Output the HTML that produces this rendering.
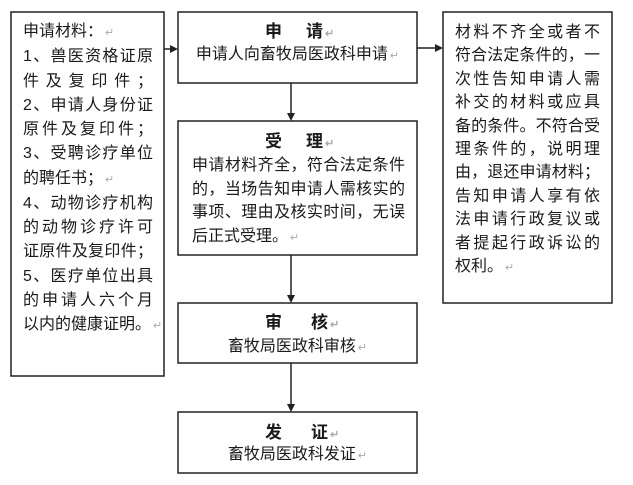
<!DOCTYPE html>
<html><head><meta charset="utf-8"><style>
html,body{margin:0;padding:0;background:#fff;}
body{width:633px;height:485px;position:relative;overflow:hidden;font-family:"Liberation Sans","Noto Sans CJK SC",sans-serif;color:#1a1a1a;}
svg{position:absolute;left:0;top:0;}
.t{position:absolute;font-size:16px;white-space:nowrap;}
.j{display:block;text-align:justify;text-align-last:justify;}
.l{display:block;text-align:left;}
.r{color:#aaa;font-size:11px;margin-left:2px;}
.b{position:absolute;font-size:17px;font-weight:bold;line-height:20px;}
.c{position:absolute;font-size:16px;text-align:center;line-height:20px;white-space:nowrap;}
</style></head><body>
<svg width="633" height="485" viewBox="0 0 633 485">
<g fill="none" stroke="#222" stroke-width="1.5">
<rect x="11" y="12" width="153" height="364"/>
<rect x="178" y="12" width="239" height="71"/>
<rect x="178" y="121" width="239" height="134"/>
<rect x="178" y="303" width="239" height="60"/>
<rect x="178" y="412" width="239" height="61"/>
<rect x="443" y="12" width="169" height="291"/>
<line x1="164" y1="49" x2="171" y2="49"/>
<line x1="417" y1="48" x2="436" y2="48"/>
<line x1="291" y1="83" x2="291" y2="114"/>
<line x1="291" y1="255" x2="291" y2="296"/>
<line x1="291" y1="363" x2="291" y2="405"/>
</g>
<g fill="#222">
<polygon points="170,45 178,49 170,53"/>
<polygon points="435,44 443,48 435,52"/>
<polygon points="287,113 291,121 295,113"/>
<polygon points="287,295 291,303 295,295"/>
<polygon points="287,404 291,412 295,404"/>
</g>
</svg>

<div class="t" style="left:23px;top:20px;width:130px;line-height:24.25px;">
<span class="l">申请材料：<span class="r">↵</span></span>
<span class="j">1、兽医资格证原</span>
<span class="j">件及复印件；</span>
<span class="j">2、申请人身份证</span>
<span class="j">原件及复印件；</span>
<span class="j">3、受聘诊疗单位</span>
<span class="l">的聘任书；<span class="r">↵</span></span>
<span class="j">4、动物诊疗机构</span>
<span class="j">的动物诊疗许可</span>
<span class="j">证原件及复印件；</span>
<span class="j">5、医疗单位出具</span>
<span class="j">的申请人六个月</span>
<span class="l">以内的健康证明。<span class="r">↵</span></span>
</div>

<div class="b" style="left:265px;top:22px;">申</div>
<div class="b" style="left:306px;top:22px;">请<span class="r">↵</span></div>
<div class="c" style="left:178px;top:45px;width:239px;">申请人向畜牧局医政科申请<span class="r">↵</span></div>

<div class="b" style="left:265px;top:132px;">受</div>
<div class="b" style="left:306px;top:132px;">理<span class="r">↵</span></div>
<div class="t" style="left:192px;top:154px;width:213px;line-height:23.6px;">
<span class="j">申请材料齐全，符合法定条件</span>
<span class="j">的，当场告知申请人需核实的</span>
<span class="j">事项、理由及核实时间，无误</span>
<span class="l">后正式受理。<span class="r">↵</span></span>
</div>

<div class="b" style="left:265px;top:313px;">审</div>
<div class="b" style="left:311px;top:313px;">核<span class="r">↵</span></div>
<div class="c" style="left:178px;top:337px;width:239px;">畜牧局医政科审核<span class="r">↵</span></div>

<div class="b" style="left:265px;top:423px;">发</div>
<div class="b" style="left:311px;top:423px;">证<span class="r">↵</span></div>
<div class="c" style="left:178px;top:445px;width:239px;">畜牧局医政科发证<span class="r">↵</span></div>

<div class="t" style="left:455px;top:21px;width:145px;line-height:23.4px;">
<span class="j">材料不齐全或者不</span>
<span class="j">符合法定条件的，一</span>
<span class="j">次性告知申请人需</span>
<span class="j">补交的材料或应具</span>
<span class="j">备的条件。不符合受</span>
<span class="j">理条件的，说明理</span>
<span class="j">由，退还申请材料；</span>
<span class="j">告知申请人享有依</span>
<span class="j">法申请行政复议或</span>
<span class="j">者提起行政诉讼的</span>
<span class="l">权利。<span class="r">↵</span></span>
</div>
</body></html>
